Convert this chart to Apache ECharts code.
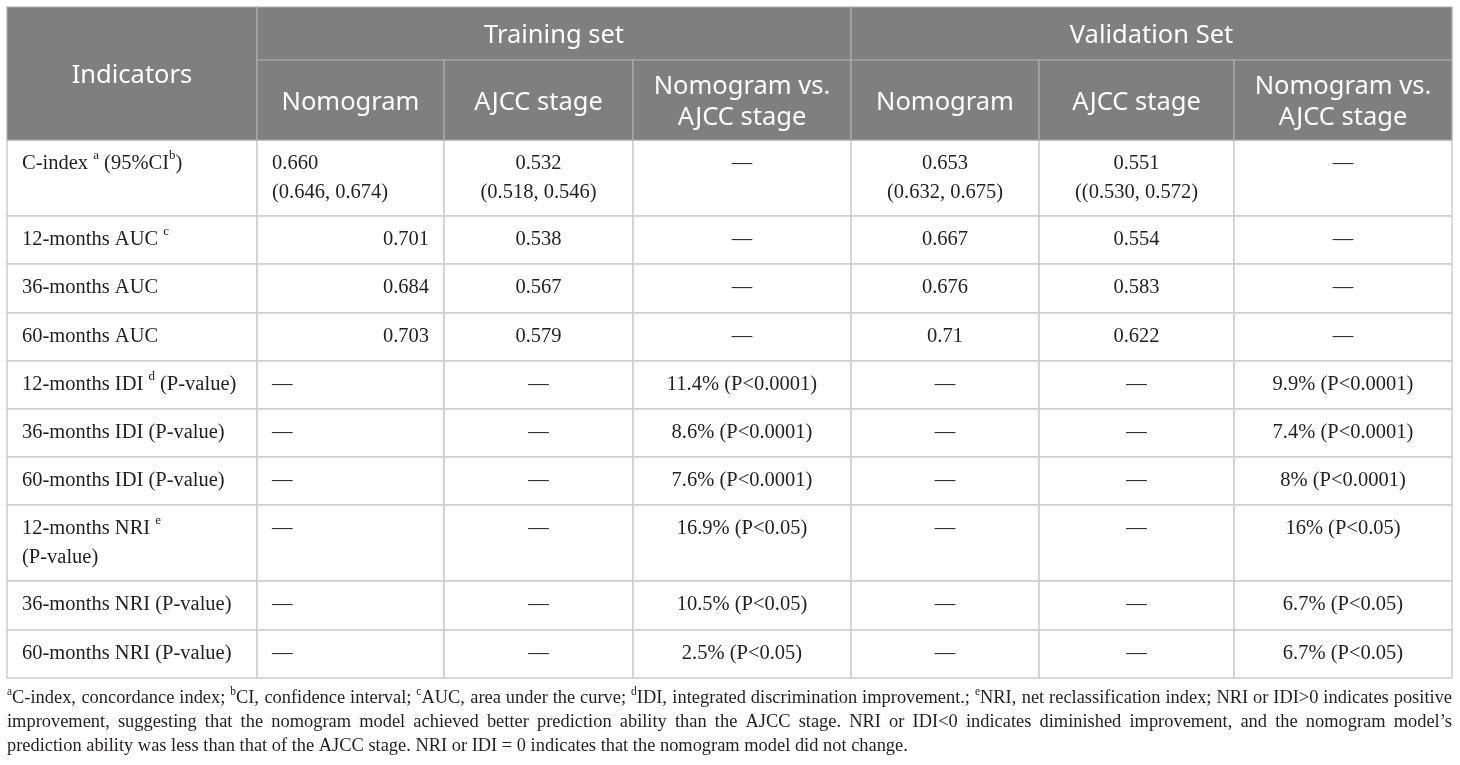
<!DOCTYPE html>
<html><head><meta charset="utf-8">
<script src="https://cdn.jsdelivr.net/npm/echarts@6/dist/echarts.min.js"></script>
<style>html,body{margin:0;padding:0;background:#fff}#c{width:1460px;height:765px}</style>
</head><body><div id="c"></div>
<script>
// ---------------- data ----------------
const headerFirst = 'Indicators';
const groups = ['Training set', 'Validation Set'];
const subColumns = ['Nomogram', 'AJCC stage', 'Nomogram vs.\nAJCC stage'];
const indicators = [
  'C-index {sup|a} (95%CI{sup|b})',
  '12-months AUC {sup|c}',
  '36-months AUC',
  '60-months AUC',
  '12-months IDI {sup|d} (P-value)',
  '36-months IDI (P-value)',
  '60-months IDI (P-value)',
  '12-months NRI {sup|e}\n(P-value)',
  '36-months NRI (P-value)',
  '60-months NRI (P-value)'
];
const D = '\u2014';
const trainNomogram = ['0.660\n(0.646, 0.674)', '0.701', '0.684', '0.703', D, D, D, D, D, D];
const trainAJCC = ['0.532\n(0.518, 0.546)', '0.538', '0.567', '0.579', D, D, D, D, D, D];
const trainCompare = [D, D, D, D, '11.4% (P<0.0001)', '8.6% (P<0.0001)', '7.6% (P<0.0001)', '16.9% (P<0.05)', '10.5% (P<0.05)', '2.5% (P<0.05)'];
const valNomogram = ['0.653\n(0.632, 0.675)', '0.667', '0.676', '0.71', D, D, D, D, D, D];
const valAJCC = ['0.551\n((0.530, 0.572)', '0.554', '0.583', '0.622', D, D, D, D, D, D];
const valCompare = [D, D, D, D, '9.9% (P<0.0001)', '7.4% (P<0.0001)', '8% (P<0.0001)', '16% (P<0.05)', '6.7% (P<0.05)', '6.7% (P<0.05)'];
const footnoteLines = [
  '^aC-index, concordance index; ^bCI, confidence interval; ^cAUC, area under the curve; ^dIDI, integrated discrimination improvement.; ^eNRI, net reclassification index; NRI or IDI>0 indicates positive',
  'improvement, suggesting that the nomogram model achieved better prediction ability than the AJCC stage. NRI or IDI<0 indicates diminished improvement, and the nomogram model\u2019s',
  'prediction ability was less than that of the AJCC stage. NRI or IDI = 0 indicates that the nomogram model did not change.'
];

// ---------------- layout / style ----------------
const colEdges = [7, 257, 444, 633, 851, 1039, 1234, 1452];
const rowEdges = [7, 60, 140, 216, 264, 313, 361, 409, 457, 505, 581, 630, 678];
const bodyCols = [indicators, trainNomogram, trainAJCC, trainCompare, valNomogram, valAJCC, valCompare];
const trainNomAlign = ['left', 'right', 'right', 'right', 'left', 'left', 'left', 'left', 'left', 'left'];
const HEAD_BG = '#7f7f7f', HEAD_LINE = '#acacac', BODY_LINE = '#cdcdcd';
const HEAD_FONT = '"Noto Sans", "Open Sans", sans-serif';
const BODY_FONT = '"Liberation Serif", "Times New Roman", serif';
const TXT = '#231f20';

const cells = [];
for (let r = 0; r < indicators.length; r++) {
  for (let c = 0; c < bodyCols.length; c++) {
    let align = 'center';
    if (c === 0) align = 'left';
    else if (c === 1) align = trainNomAlign[r];
    cells.push({x0: colEdges[c], x1: colEdges[c + 1], y0: rowEdges[r + 2], y1: rowEdges[r + 3],
      text: bodyCols[c][r], header: false, align: align});
  }
}
cells.push({x0: colEdges[0], x1: colEdges[1], y0: rowEdges[0], y1: rowEdges[2], text: headerFirst, header: true, align: 'center'});
cells.push({x0: colEdges[1], x1: colEdges[4], y0: rowEdges[0], y1: rowEdges[1], text: groups[0], header: true, align: 'center'});
cells.push({x0: colEdges[4], x1: colEdges[7], y0: rowEdges[0], y1: rowEdges[1], text: groups[1], header: true, align: 'center'});
for (let g = 0; g < 2; g++) {
  for (let s = 0; s < subColumns.length; s++) {
    const c = 1 + g * 3 + s;
    cells.push({x0: colEdges[c], x1: colEdges[c + 1], y0: rowEdges[1], y1: rowEdges[2], text: subColumns[s], header: true, align: 'center'});
  }
}
const seriesData = cells.map((c, i) => [c.x0, c.y0, c.x1, c.y1, i]);

function renderCell(params, api) {
  const cell = cells[api.value(4)];
  const p0 = api.coord([api.value(0), api.value(1)]);
  const p1 = api.coord([api.value(2), api.value(3)]);
  const w = p1[0] - p0[0], h = p1[1] - p0[1];
  const children = [{
    type: 'rect', shape: {x: p0[0], y: p0[1], width: w, height: h},
    style: {fill: cell.header ? HEAD_BG : '#ffffff', stroke: cell.header ? HEAD_LINE : BODY_LINE, lineWidth: cell.header ? 1.2 : 1.5}
  }];
  let tx;
  const pad = 15;
  if (cell.align === 'left') tx = p0[0] + pad;
  else if (cell.align === 'right') tx = p1[0] - pad;
  else tx = (p0[0] + p1[0]) / 2;
  if (cell.header) {
    children.push({type: 'text', style: {text: cell.text, x: tx, y: (p0[1] + p1[1]) / 2 + 2.5, align: 'center', verticalAlign: 'middle',
      fontSize: 25.5, fontFamily: HEAD_FONT, fill: '#ffffff', lineHeight: 31}});
  } else {
    children.push({type: 'text', style: {text: cell.text, x: tx, y: p0[1] + 9, align: cell.align, verticalAlign: 'top',
      fontSize: 20.5, fontFamily: BODY_FONT, fill: TXT, lineHeight: 29,
      rich: {sup: {fontSize: 13, fontFamily: BODY_FONT, fill: TXT, lineHeight: 16, verticalAlign: 'top'}}}});
  }
  return {type: 'group', children: children};
}

// footnote: justified lines, words measured
const ctx = document.createElement('canvas').getContext('2d');
function measure(txt, fs) { ctx.font = fs + 'px "Liberation Serif"'; return ctx.measureText(txt).width; }
function parseWords(line, fs, supFs) {
  return line.split(' ').map(wd => {
    let sup = '', rest = wd;
    if (wd[0] === '^') { sup = wd[1]; rest = wd.slice(2); }
    const width = (sup ? measure(sup, supFs) + 0.5 : 0) + measure(rest, fs);
    return {sup, rest, width};
  });
}
function naturalWidth(line, fs) {
  const ws = parseWords(line, fs, fs * 0.62);
  return ws.reduce((a, b) => a + b.width, 0) + (ws.length - 1) * measure(' ', fs);
}
const fnLeft = 7, fnRight = 1452, fnY = [698, 722, 746];
const baseFs = 17;
const fit1 = baseFs * (fnRight - fnLeft - 6) / naturalWidth(footnoteLines[0], baseFs);
const fit3 = baseFs * 946 / naturalWidth(footnoteLines[2], baseFs);
const FN_FS = Math.max(15, Math.min(fit1, fit3, 19));
const SUP_FS = FN_FS * 0.62;
const graphics = [];
footnoteLines.forEach((line, li) => {
  const parsed = parseWords(line, FN_FS, SUP_FS);
  const total = parsed.reduce((a, b) => a + b.width, 0);
  const justify = li < footnoteLines.length - 1;
  const gap = justify ? (fnRight - fnLeft - total) / (parsed.length - 1) : measure(' ', FN_FS);
  let x = fnLeft;
  parsed.forEach(p => {
    graphics.push({type: 'text', x: x, y: fnY[li], silent: true,
      style: {text: (p.sup ? '{s|' + p.sup + '}' : '') + p.rest, fontSize: FN_FS, fontFamily: BODY_FONT, fill: TXT,
        verticalAlign: 'middle', lineHeight: 22,
        rich: {s: {fontSize: SUP_FS, fontFamily: BODY_FONT, fill: TXT, lineHeight: 14, verticalAlign: 'top'}}}});
    x += p.width + gap;
  });
});

const chart = echarts.init(document.getElementById('c'), null, {renderer: 'canvas'});
chart.setOption({
  animation: false,
  backgroundColor: '#ffffff',
  grid: {left: 0, right: 0, top: 0, bottom: 0},
  xAxis: {type: 'value', min: 0, max: 1460, show: false},
  yAxis: {type: 'value', min: 0, max: 765, inverse: true, show: false},
  series: [{
    type: 'custom', clip: false, silent: true,
    encode: {x: [0, 2], y: [1, 3]},
    data: seriesData,
    renderItem: renderCell
  }],
  graphic: {elements: graphics}
});
</script></body></html>
